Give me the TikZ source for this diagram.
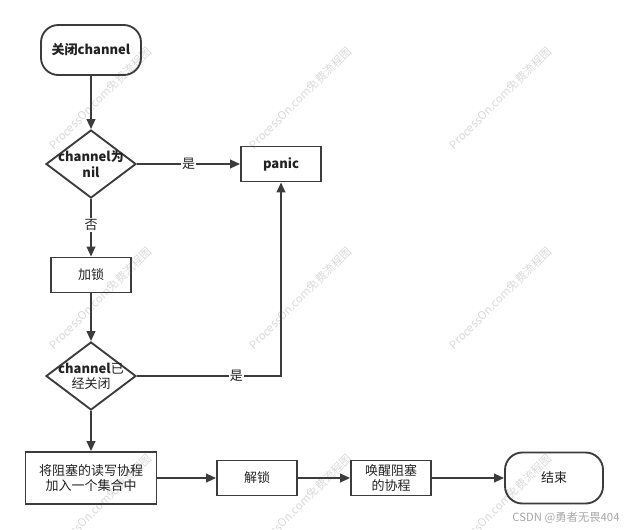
\documentclass[tikz,border=0pt]{standalone}
\usepackage{fontspec}
\setmainfont{Noto Sans CJK SC}
\usetikzlibrary{positioning}
\usetikzlibrary{shapes.geometric}
\usetikzlibrary{arrows.meta}
\definecolor{linedark}{HTML}{3C3C3C}
\definecolor{textdark}{HTML}{222222}
\definecolor{wmgray}{HTML}{D9D9D9}
\definecolor{csdngray}{HTML}{A8A8A8}

\begin{document}
\begin{tikzpicture}[x=0.75pt,y=-0.75pt,
  font=\fontsize{9.75pt}{11.5pt}\selectfont,
  every node/.style={text=textdark},
  line/.style={draw=linedark,line width=1.4pt},
  arr/.style={line,-{Triangle[length=7.5pt,width=6.5pt]}},
  proc/.style={line,rectangle,minimum width=60pt,minimum height=26.25pt,align=center,inner sep=0pt},
  term/.style={line,rectangle,rounded corners=13pt,minimum width=75pt,minimum height=37.5pt,align=center},
  cond/.style={line,diamond,minimum width=67.5pt,minimum height=51pt,inner sep=0pt},
  lbl/.style={fill=white,inner sep=1pt},
  wmark/.style={text=wmgray,rotate=45,inner sep=0pt,font=\fontsize{8.5pt}{10pt}\selectfont}]
\useasboundingbox (0,0) rectangle (630,529);

\node[wmark] (wm1) at (100,98) {ProcessOn.com免费流程图};
\node[wmark] (wm2) at (300,98) {ProcessOn.com免费流程图};
\node[wmark] (wm3) at (500,98) {ProcessOn.com免费流程图};
\node[wmark] (wm4) at (100,298) {ProcessOn.com免费流程图};
\node[wmark] (wm5) at (300,298) {ProcessOn.com免费流程图};
\node[wmark] (wm6) at (500,298) {ProcessOn.com免费流程图};
\node[wmark] (wm7) at (100,505) {ProcessOn.com免费流程图};
\node[wmark] (wm8) at (300,505) {ProcessOn.com免费流程图};
\node[wmark] (wm9) at (500,505) {ProcessOn.com免费流程图};

\node[term,font=\fontsize{9.75pt}{11.5pt}\selectfont\bfseries] (start) at (91,50) {关闭channel};
\node[cond,label={[align=center,font=\fontsize{9.75pt}{11.5pt}\selectfont\bfseries]center:channel为\\nil}] (isnil) at (91,164) {};
\node[proc,font=\fontsize{9.75pt}{11.5pt}\selectfont\bfseries] (panic) at (281,164) {panic};
\node[proc] (lock) at (91,275) {加锁};
\node[cond,label={[align=center]center:{\bfseries channel}已\\经关闭}] (isclosed) at (91,376) {};
\node[proc,minimum width=98.25pt,minimum height=39pt] (collect) at (91,478) {将阻塞的读写协程\\加入一个集合中};
\node[proc] (unlock) at (257,478) {解锁};
\node[proc] (wake) at (391,478) {唤醒阻塞\\的协程};
\node[term,minimum width=73.5pt,minimum height=38.25pt] (finish) at (554,478) {结束};

\draw[arr] (start) -- (isnil);
\draw[arr] (isnil) -- node[lbl] {是} (panic);
\draw[arr] (isnil) -- node[lbl,pos=0.45] {否} (lock);
\draw[arr] (lock) -- (isclosed);
\draw[arr] (isclosed.east) -| node[lbl,pos=0.345] {是} (panic.south);
\draw[arr] (isclosed) -- (collect);
\draw[arr] (collect) -- (unlock);
\draw[arr] (unlock) -- (wake);
\draw[arr] (wake) -- (finish);

\node[text=csdngray,font=\fontsize{8.5pt}{10pt}\selectfont] (csdn) at (566,518) {CSDN @勇者无畏404};
\end{tikzpicture}
\end{document}
